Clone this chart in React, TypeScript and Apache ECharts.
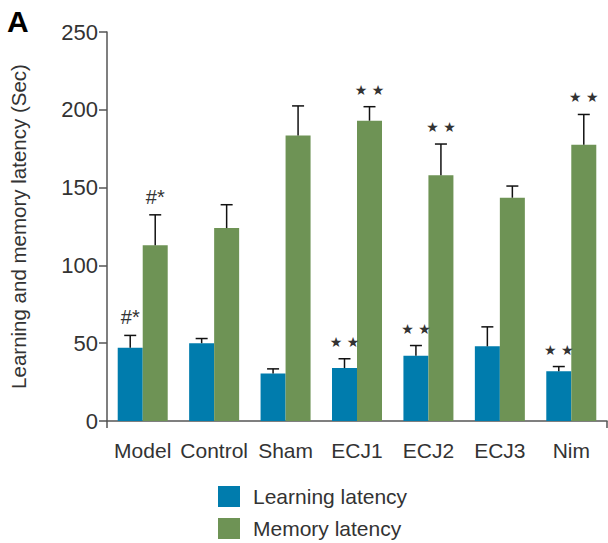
import React, { useEffect, useRef } from "react";
import * as echarts from "echarts";

const categories = ["Model", "Control", "Sham", "ECJ1", "ECJ2", "ECJ3", "Nim"];
const learningLatency = [47, 50, 30.5, 34, 42, 48, 32];
const learningErrTop = [55, 53, 33.5, 40, 48.5, 60.5, 35];
const learningMarks = ["#*", "", "", "★★", "★★", "", "★★"];
const memoryLatency = [113, 124, 183.5, 193, 158, 143.5, 177.5];
const memoryErrTop = [132.5, 139, 202.5, 202, 178, 151, 197];
const memoryMarks = ["#*", "", "", "★★", "★★", "", "★★"];
const yTicks = [0, 50, 100, 150, 200, 250];

const BLUE = "#007cad";
const GREEN = "#6e9355";
const FONT = "'Liberation Sans', Arial, sans-serif";

function errSeries(name: string, vals: number[], tops: number[], marks: string[], offset: number) {
  return {
    type: "custom",
    name: name + " err",
    z: 5,
    data: vals.map((v, i) => [i, v, tops[i], i]),
    encode: { x: 0, y: [1, 2] },
    renderItem: (params: any, api: any) => {
      const i = api.value(0);
      const v = api.value(1);
      const e = api.value(2);
      const idx = api.value(3);
      const base = api.coord([i, v]);
      const top = api.coord([i, e]);
      const x = base[0] + offset;
      const mark = marks[idx];
      const children: any[] = [
        { type: "line", shape: { x1: x, y1: base[1], x2: x, y2: top[1] }, style: { stroke: "#111", lineWidth: 1.5 } },
        { type: "line", shape: { x1: x - 6, y1: top[1], x2: x + 6, y2: top[1] }, style: { stroke: "#111", lineWidth: 1.5 } },
      ];
      if (mark) {
        const isStar = mark.indexOf("★") >= 0;
        children.push({
          type: "text",
          x: x,
          y: top[1] - (isStar ? 17 : 18),
          style: {
            text: isStar ? "★ ★" : mark,
            fill: "#333",
            font: isStar ? `14px 'DejaVu Sans', sans-serif` : `20px ${FONT}`,
            align: "center",
            verticalAlign: "middle",
          },
        });
      }
      return { type: "group", children };
    },
  };
}

export default function App() {
  const ref = useRef<HTMLDivElement>(null);
  useEffect(() => {
    document.body.style.margin = "0";
    if (!ref.current) return;
    const chart = echarts.init(ref.current, null, { renderer: "svg" });
    chart.setOption({
      animation: false,
      grid: { left: 106, right: 1, top: 32, bottom: 122, containLabel: false },
      graphic: [
        { type: "text", left: 7, top: 6, style: { text: "A", font: `bold 30px ${FONT}`, fill: "#000" } },
      ],
      legend: {
        orient: "vertical",
        left: 218,
        top: 486,
        padding: 0,
        itemWidth: 22,
        itemHeight: 21,
        itemGap: 11,
        icon: "rect",
        data: ["Learning latency", "Memory latency"],
        textStyle: { fontSize: 21, color: "#333", fontFamily: FONT, padding: [0, 0, 0, 8] },
      },
      xAxis: {
        type: "category",
        data: categories,
        axisLine: { lineStyle: { color: "#555", width: 1.5 } },
        axisTick: { show: true, length: 7, interval: (i: number) => i === 0, lineStyle: { color: "#555", width: 1.5 } },
        axisLabel: { fontSize: 21, color: "#333", fontFamily: FONT, margin: 19, interval: 0 },
      },
      yAxis: {
        type: "value",
        min: 0,
        max: 250,
        interval: 50,
        name: "Learning and memory latency (Sec)",
        nameLocation: "middle",
        nameGap: 78,
        nameTextStyle: { fontSize: 20.5, color: "#333", fontFamily: FONT },
        axisLine: { show: true, lineStyle: { color: "#555", width: 1.5 } },
        axisTick: { show: true, length: 8, lineStyle: { color: "#555", width: 1.5 } },
        splitLine: { show: false },
        axisLabel: {
          fontSize: 22,
          color: "#333",
          fontFamily: FONT,
          margin: 9,
          formatter: (v: number) => (yTicks.indexOf(v) >= 0 ? String(v) : ""),
        },
      },
      series: [
        { type: "bar", name: "Learning latency", data: learningLatency, barWidth: 25, barGap: "0%", itemStyle: { color: BLUE } },
        { type: "bar", name: "Memory latency", data: memoryLatency, barWidth: 25, barGap: "0%", itemStyle: { color: GREEN } },
        errSeries("Learning latency", learningLatency, learningErrTop, learningMarks, -12.5),
        errSeries("Memory latency", memoryLatency, memoryErrTop, memoryMarks, 12.5),
      ],
    });
    return () => chart.dispose();
  }, []);
  return <div ref={ref} style={{ width: 608, height: 543 }} />;
}
